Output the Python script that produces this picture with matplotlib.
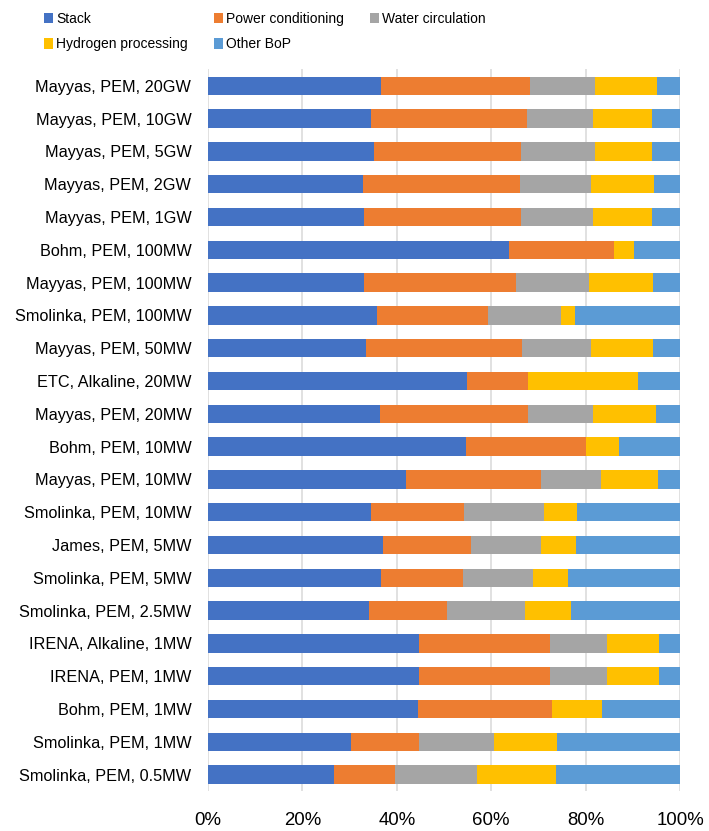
import matplotlib.pyplot as plt
import numpy as np

plt.rcParams['font.family'] = ['Liberation Sans', 'DejaVu Sans']

# studies, listed from top to bottom
studies = [
    "Mayyas, PEM, 20GW", "Mayyas, PEM, 10GW", "Mayyas, PEM, 5GW",
    "Mayyas, PEM, 2GW", "Mayyas, PEM, 1GW", "Bohm, PEM, 100MW",
    "Mayyas, PEM, 100MW", "Smolinka, PEM, 100MW", "Mayyas, PEM, 50MW",
    "ETC, Alkaline, 20MW", "Mayyas, PEM, 20MW", "Bohm, PEM, 10MW",
    "Mayyas, PEM, 10MW", "Smolinka, PEM, 10MW", "James, PEM, 5MW",
    "Smolinka, PEM, 5MW", "Smolinka, PEM, 2.5MW", "IRENA, Alkaline, 1MW",
    "IRENA, PEM, 1MW", "Bohm, PEM, 1MW", "Smolinka, PEM, 1MW",
    "Smolinka, PEM, 0.5MW",
]

# cost shares in percent
stack = [36.7, 34.5, 35.2, 32.8, 33.1, 63.8, 33.1, 35.8, 33.5, 54.9, 36.4,
         54.7, 41.9, 34.5, 37.1, 36.6, 34.1, 44.8, 44.8, 44.5, 30.3, 26.6]
power = [31.5, 33.0, 31.1, 33.3, 33.2, 22.2, 32.2, 23.5, 33.0, 13.0, 31.4,
         25.4, 28.6, 19.7, 18.7, 17.4, 16.5, 27.6, 27.6, 28.3, 14.4, 13.0]
water = [13.8, 14.0, 15.7, 15.0, 15.2, 0.0, 15.4, 15.5, 14.6, 0.0, 13.7,
         0.0, 12.7, 16.9, 14.8, 14.9, 16.6, 12.1, 12.1, 0.0, 15.9, 17.3]
hydrogen = [13.2, 12.5, 12.1, 13.3, 12.6, 4.3, 13.6, 2.9, 13.2, 23.1, 13.5,
            7.0, 12.1, 7.1, 7.3, 7.4, 9.7, 11.1, 11.1, 10.6, 13.3, 16.8]
other_bop = [4.8, 6.0, 5.9, 5.6, 5.9, 9.7, 5.7, 22.3, 5.7, 9.0, 5.0,
             12.9, 4.7, 21.8, 22.1, 23.7, 23.1, 4.4, 4.4, 16.6, 26.1, 26.3]

series = [
    ("Stack", stack, "#4472C4"),
    ("Power conditioning", power, "#ED7D31"),
    ("Water circulation", water, "#A5A5A5"),
    ("Hydrogen processing", hydrogen, "#FFC000"),
    ("Other BoP", other_bop, "#5B9BD5"),
]

fig = plt.figure(figsize=(7.09, 8.31), dpi=100)
ax = fig.add_axes([0.2934, 0.0482, 0.6657, 0.8683])

y = np.arange(len(studies))
totals = np.sum([s[1] for s in series], axis=0)
left = np.zeros(len(studies))
bars = {}
for name, vals, color in series:
    share = np.array(vals) / totals
    bars[name] = ax.barh(y, share, left=left, height=0.56, color=color,
                         label=name, zorder=2)
    left += share

ax.set_xlim(0, 1)
ax.set_ylim(len(studies) - 0.5, -0.5)
ax.set_yticks(y)
ax.set_yticklabels(studies, fontsize=11.7)
ax.set_xticks(np.linspace(0, 1, 6))
ax.set_xticklabels([f"{int(v)}%" for v in np.linspace(0, 100, 6)], fontsize=13.4)
ax.tick_params(axis='y', length=0, pad=12)
ax.tick_params(axis='x', length=0, pad=15)
ax.grid(axis='x', color='#D9D9D9', linewidth=1.1, zorder=0)
for s in ax.spines.values():
    s.set_visible(False)

# legend rows run left to right: Stack, Power, Water / Hydrogen, Other
order = ["Stack", "Hydrogen processing", "Power conditioning", "Other BoP",
         "Water circulation"]
fig.legend([bars[n] for n in order], order, ncol=3, loc='upper left',
           bbox_to_anchor=(0.049, 0.997), frameon=False, fontsize=10,
           handlelength=0.6, handleheight=0.75, handletextpad=0.25,
           labelspacing=0.8, columnspacing=1.9, borderaxespad=0.3)

fig.savefig("out.png", dpi=100)
